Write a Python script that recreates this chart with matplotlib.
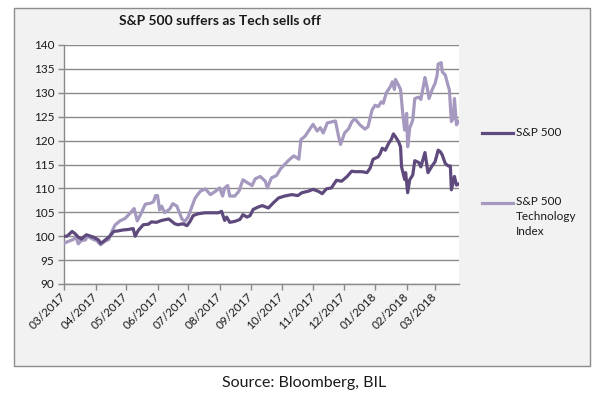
import matplotlib
matplotlib.use('Agg')
import matplotlib.pyplot as plt
import matplotlib.dates as mdates
from matplotlib.patches import Rectangle
from matplotlib.lines import Line2D
import pandas as pd

# values (indexed, 03/2017 = 100)
spx_dates = ['2017-03-01', '2017-03-04', '2017-03-09', '2017-03-12', '2017-03-15', '2017-03-18',
             '2017-03-23', '2017-03-30', '2017-04-04', '2017-04-06', '2017-04-10', '2017-04-15',
             '2017-04-19', '2017-04-23', '2017-04-28', '2017-05-03', '2017-05-08', '2017-05-10',
             '2017-05-13', '2017-05-18', '2017-05-23', '2017-05-26', '2017-05-31', '2017-06-05',
             '2017-06-12', '2017-06-18', '2017-06-21', '2017-06-26', '2017-06-30', '2017-07-03',
             '2017-07-06', '2017-07-11', '2017-07-18', '2017-07-24', '2017-07-31', '2017-08-03',
             '2017-08-06', '2017-08-08', '2017-08-11', '2017-08-16', '2017-08-21', '2017-08-24',
             '2017-08-28', '2017-08-31', '2017-09-03', '2017-09-08', '2017-09-12', '2017-09-18',
             '2017-09-23', '2017-09-28', '2017-10-04', '2017-10-11', '2017-10-17', '2017-10-21',
             '2017-10-27', '2017-11-01', '2017-11-06', '2017-11-10', '2017-11-14', '2017-11-19',
             '2017-11-24', '2017-11-29', '2017-12-04', '2017-12-09', '2017-12-12', '2017-12-19',
             '2017-12-24', '2017-12-27', '2017-12-30', '2018-01-04', '2018-01-06', '2018-01-08',
             '2018-01-11', '2018-01-14', '2018-01-17', '2018-01-19', '2018-01-21', '2018-01-24',
             '2018-01-26', '2018-01-27', '2018-01-30', '2018-01-31', '2018-02-02', '2018-02-04',
             '2018-02-07', '2018-02-09', '2018-02-13', '2018-02-15', '2018-02-19', '2018-02-22',
             '2018-02-26', '2018-03-01', '2018-03-04', '2018-03-06', '2018-03-08', '2018-03-11',
             '2018-03-14', '2018-03-16', '2018-03-17', '2018-03-20', '2018-03-22', '2018-03-24']
spx_values = [100.0, 100.0, 101.0, 100.5, 99.8, 99.4,
              100.3, 99.8, 99.2, 98.5, 99.1, 100.0,
              101.0, 101.1, 101.3, 101.4, 101.6, 100.0,
              101.2, 102.4, 102.5, 103.0, 102.9, 103.3,
              103.6, 102.6, 102.4, 102.6, 102.2, 103.1,
              104.3, 104.7, 104.9, 104.9, 104.9, 105.2,
              103.3, 104.0, 102.9, 103.1, 103.5, 104.5,
              104.0, 104.3, 105.6, 106.1, 106.4, 105.9,
              107.0, 108.0, 108.4, 108.7, 108.5, 109.1,
              109.4, 109.8, 109.4, 108.9, 109.9, 110.1,
              111.7, 111.5, 112.4, 113.6, 113.5, 113.5,
              113.3, 114.2, 116.1, 116.6, 117.3, 118.4,
              118.0, 119.3, 120.3, 121.4, 120.8, 119.8,
              118.7, 114.5, 111.9, 113.3, 109.1, 111.8,
              112.8, 115.8, 115.4, 114.5, 117.5, 113.3,
              114.7, 115.6, 118.0, 117.7, 117.0, 115.2,
              114.7, 114.7, 109.7, 112.5, 110.7, 110.9]

tech_dates = ['2017-03-01', '2017-03-05', '2017-03-10', '2017-03-13', '2017-03-15', '2017-03-18',
              '2017-03-22', '2017-03-24', '2017-03-30', '2017-04-02', '2017-04-06', '2017-04-10',
              '2017-04-14', '2017-04-17', '2017-04-20', '2017-04-25', '2017-04-30', '2017-05-05',
              '2017-05-09', '2017-05-12', '2017-05-15', '2017-05-20', '2017-05-25', '2017-05-28',
              '2017-05-30', '2017-06-01', '2017-06-03', '2017-06-05', '2017-06-08', '2017-06-13',
              '2017-06-16', '2017-06-20', '2017-06-22', '2017-06-25', '2017-06-28', '2017-07-01',
              '2017-07-05', '2017-07-08', '2017-07-13', '2017-07-18', '2017-07-23', '2017-07-28',
              '2017-08-01', '2017-08-04', '2017-08-06', '2017-08-09', '2017-08-11', '2017-08-16',
              '2017-08-20', '2017-08-24', '2017-08-29', '2017-09-02', '2017-09-05', '2017-09-10',
              '2017-09-15', '2017-09-17', '2017-09-21', '2017-09-26', '2017-09-30', '2017-10-04',
              '2017-10-08', '2017-10-13', '2017-10-16', '2017-10-18', '2017-10-20', '2017-10-24',
              '2017-10-29', '2017-11-01', '2017-11-05', '2017-11-08', '2017-11-11', '2017-11-15',
              '2017-11-19', '2017-11-23', '2017-11-26', '2017-11-28', '2017-12-02', '2017-12-06',
              '2017-12-09', '2017-12-12', '2017-12-17', '2017-12-22', '2017-12-25', '2017-12-29',
              '2018-01-01', '2018-01-04', '2018-01-07', '2018-01-09', '2018-01-12', '2018-01-16',
              '2018-01-18', '2018-01-20', '2018-01-21', '2018-01-24', '2018-01-26', '2018-01-28',
              '2018-01-30', '2018-02-01', '2018-02-02', '2018-02-04', '2018-02-07', '2018-02-09',
              '2018-02-13', '2018-02-15', '2018-02-18', '2018-02-19', '2018-02-21', '2018-02-23',
              '2018-02-26', '2018-03-01', '2018-03-03', '2018-03-04', '2018-03-07', '2018-03-08',
              '2018-03-11', '2018-03-14', '2018-03-15', '2018-03-17', '2018-03-19', '2018-03-20',
              '2018-03-22', '2018-03-24']
tech_values = [98.5, 98.9, 99.3, 99.8, 98.4, 99.1,
               99.2, 100.0, 99.3, 99.1, 98.2, 98.9,
               99.3, 100.9, 102.3, 103.2, 103.7, 104.8,
               105.8, 103.2, 104.4, 106.7, 106.9, 107.2,
               108.5, 108.5, 105.5, 106.3, 104.9, 105.7,
               106.8, 106.3, 105.2, 103.6, 103.1, 104.0,
               106.3, 108.0, 109.4, 109.9, 108.7, 109.4,
               110.1, 108.4, 110.1, 110.6, 108.4, 108.4,
               109.4, 111.8, 111.1, 110.6, 112.0, 112.5,
               111.5, 110.1, 112.2, 112.7, 114.1, 115.0,
               115.9, 116.8, 116.4, 116.1, 120.2, 120.9,
               122.5, 123.4, 122.0, 122.7, 121.6, 123.7,
               123.9, 124.1, 120.9, 119.2, 121.6, 122.5,
               123.9, 124.6, 123.3, 122.4, 122.9, 126.4,
               127.4, 127.1, 128.1, 127.8, 130.0, 131.3,
               132.3, 130.7, 132.8, 131.6, 130.7, 126.1,
               122.2, 125.7, 118.7, 122.6, 124.3, 128.8,
               129.1, 128.6, 132.0, 133.2, 131.3, 128.8,
               130.6, 132.0, 133.7, 136.0, 136.3, 134.4,
               133.7, 131.3, 130.7, 124.0, 124.7, 128.8,
               123.3, 124.0]

month_ticks = pd.date_range('2017-03-01', '2018-03-01', freq='MS')
y_ticks = [90, 95, 100, 105, 110, 115, 120, 125, 130, 135, 140]

spx_color = '#5F4A7D'
tech_color = '#A699BF'
grid_color = '#8A8A8A'
font = 'Lato'

plt.rcParams['font.family'] = [font, 'DejaVu Sans']

fig = plt.figure(figsize=(6.05, 3.98), dpi=100)
fig.patch.set_facecolor('white')

# grey chart frame, drawn behind the axes
frame = Rectangle((14 / 605, 1 - 366 / 398), 576 / 605, 358 / 398,
                  transform=fig.transFigure, facecolor='#F2F2F2',
                  edgecolor='#8C8C8C', linewidth=1.0, zorder=-5)
fig.patches.append(frame)

ax = fig.add_axes([64 / 605, 1 - 284 / 398, 394.5 / 605, 239 / 398])
ax.set_zorder(2)
ax.set_facecolor('white')

ax.plot(pd.to_datetime(tech_dates), tech_values, color=tech_color, lw=2.3,
        solid_joinstyle='round', zorder=3)
ax.plot(pd.to_datetime(spx_dates), spx_values, color=spx_color, lw=2.3,
        solid_joinstyle='round', zorder=4)

ax.set_ylim(90, 140)
ax.set_yticks(y_ticks)
ax.set_xlim(pd.Timestamp('2017-03-01'), pd.Timestamp('2018-03-24'))
ax.set_xticks(month_ticks)
ax.xaxis.set_major_formatter(mdates.DateFormatter('%m/%Y'))

ax.grid(axis='y', color=grid_color, lw=1.0, zorder=1)
ax.set_axisbelow(True)
for side in ['top', 'right']:
    ax.spines[side].set_visible(False)
for side in ['left', 'bottom']:
    ax.spines[side].set_color(grid_color)
    ax.spines[side].set_linewidth(1.0)

ax.tick_params(axis='both', direction='out', length=4, width=1.0, color=grid_color,
               labelcolor='#1A1A1A', labelsize=8.5)
ax.tick_params(axis='y', pad=3)
for lbl in ax.get_xticklabels():
    lbl.set_rotation(45)
    lbl.set_ha('right')
    lbl.set_va('center')
    lbl.set_rotation_mode('anchor')

fig.text(220 / 605, 1 - 21 / 398, 'S&P 500 suffers as Tech sells off', ha='center',
         va='center', fontsize=10, fontweight='bold', color='#1A1A1A')

# legend at the right of the plot area
fig.lines.append(Line2D([482 / 605, 513 / 605], [1 - 133 / 398, 1 - 133 / 398],
                        transform=fig.transFigure, color=spx_color, lw=2.3))
fig.text(516 / 605, 1 - 133 / 398, 'S&P 500', ha='left', va='center', fontsize=8.5,
         color='#1A1A1A')
fig.lines.append(Line2D([482 / 605, 513 / 605], [1 - 203 / 398, 1 - 203 / 398],
                        transform=fig.transFigure, color=tech_color, lw=2.3))
fig.text(516 / 605, 1 - 196 / 398, 'S&P 500\nTechnology\nIndex', ha='left', va='top',
         fontsize=8.5, color='#1A1A1A', linespacing=1.45)

fig.text(304 / 605, 1 - 383 / 398, 'Source: Bloomberg, BIL', ha='center', va='center',
         fontsize=11.5, color='#1A1A1A')

fig.savefig('out.png', dpi=100)
